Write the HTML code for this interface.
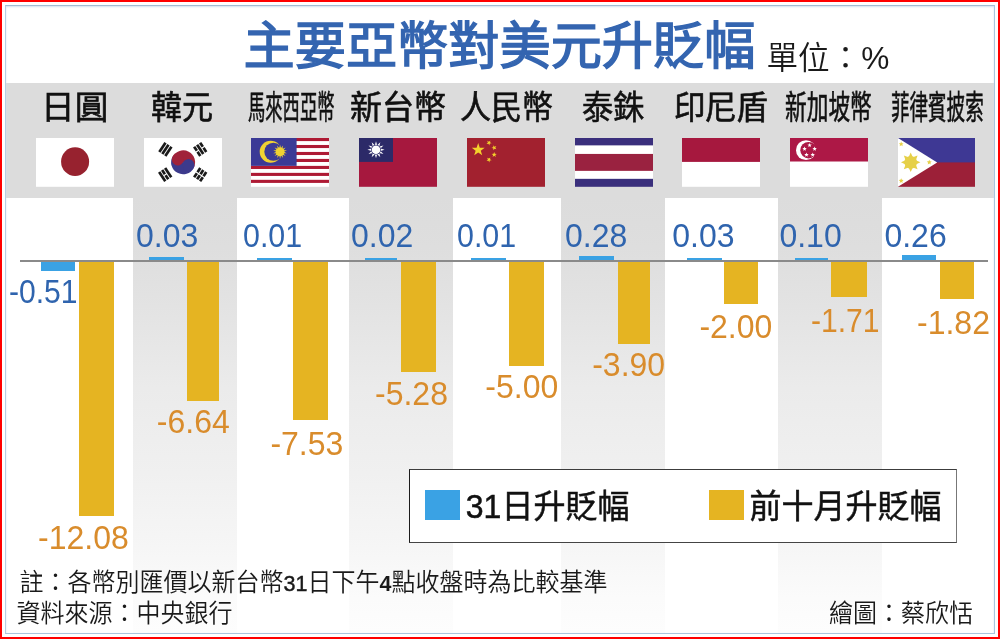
<!DOCTYPE html>
<html lang="zh-Hant">
<head>
<meta charset="utf-8">
<title>主要亞幣對美元升貶幅</title>
<style>
html,body{margin:0;padding:0;}
body{width:1000px;height:639px;position:relative;overflow:hidden;background:#fff;
  font-family:"Liberation Sans","Noto Sans CJK TC","Noto Sans CJK JP",sans-serif;color:#111;}
.abs{position:absolute;}
#red{position:absolute;left:0;top:0;width:1000px;height:639px;box-sizing:border-box;
  border-style:solid;border-color:#f00;border-width:2px 2px 2.5px 2px;z-index:50;pointer-events:none;}
#frame{position:absolute;left:5px;top:5px;width:990px;height:629px;box-sizing:border-box;
  border:1px solid #a9c4dd;border-left-color:#b7cde2;border-top-color:#a2bbd3;z-index:49;pointer-events:none;box-shadow:inset 0 1px 2px 0 #d3e1ee;}
#band{position:absolute;left:6px;top:83px;width:988px;height:116px;background:#dcdcdc;}
.col{position:absolute;top:198px;height:435px;}
.col.w{background:#fff;}
.col.g{background:linear-gradient(to bottom,#dcdcdc 0px,#dedede 50px,#e4e4e4 120px,#ebebeb 190px,#f0f0f0 275px,#f6f6f6 350px,#fbfbfb 400px,#fdfdfd 435px);}
#title{position:absolute;left:243.5px;top:10px;font-size:51.2px;line-height:74px;font-weight:400;-webkit-text-stroke:1.5px #3465b0;color:#3465b0;white-space:nowrap;letter-spacing:0px;}
#unit{position:absolute;left:766.5px;top:36.3px;font-size:31.6px;line-height:44px;font-weight:350;color:#1a1a1a;white-space:nowrap;}
.hd{position:absolute;top:86px;height:44px;line-height:44px;font-size:31px;font-weight:400;-webkit-text-stroke:0.6px #111;color:#111;white-space:nowrap;transform-origin:0 50%;}
.flag{position:absolute;top:137.8px;width:78px;height:48.8px;}
.flag svg{display:block;width:100%;height:100%;}
#axis{position:absolute;left:19.8px;top:259.7px;width:968.7px;height:2.5px;background:#8a8a8a;}
.gb{position:absolute;top:262px;background:#e5b422;}
.bb{position:absolute;background:#3aa2e4;}
.num{position:absolute;font-size:32px;line-height:36px;height:36px;white-space:nowrap;letter-spacing:0;transform:scaleY(1.06);transform-origin:0 50%;}
.num.b{color:#2f64ae;}
.num.o{color:#d98c2c;}
#legend{position:absolute;left:408.6px;top:469px;width:548.2px;height:73.6px;box-sizing:border-box;background:#fff;border:1.2px solid #1c1c1c;border-top:1.5px solid #3c3c3c;border-right:1px solid #777;border-bottom-color:#444;}
.lsq{position:absolute;top:490px;width:35px;height:30px;}
.ltx{position:absolute;top:484.8px;font-size:32px;line-height:44px;color:#111;white-space:nowrap;-webkit-text-stroke:0.5px #111;transform:scaleY(1.04);transform-origin:0 50%;}
.note{position:absolute;font-size:24px;line-height:30px;color:#1a1a1a;white-space:nowrap;font-weight:350;transform:scaleY(1.06);transform-origin:0 50%;}
.dg{font-size:21.5px;font-weight:400;-webkit-text-stroke:0.45px #1a1a1a;letter-spacing:0;}
.dg.k{font-weight:700;-webkit-text-stroke:0;letter-spacing:0;}
</style>
</head>
<body>
<div id="band"></div>
<div class="col w" style="left:6px;width:127px"></div>
<div class="col g" style="left:133px;width:103.5px"></div>
<div class="col w" style="left:236.5px;width:112.5px"></div>
<div class="col g" style="left:349px;width:103.8px"></div>
<div class="col w" style="left:452.8px;width:108.2px"></div>
<div class="col g" style="left:561px;width:103.8px"></div>
<div class="col w" style="left:664.8px;width:113.1px"></div>
<div class="col g" style="left:777.9px;width:103.9px"></div>
<div class="col w" style="left:881.8px;width:112.2px"></div>

<div id="title">主要亞幣對美元升貶幅</div>
<div id="unit">單位：%</div>

<div class="hd" style="left:40.7px;transform:scale(1.087,1.05)">日圓</div>
<div class="hd" style="left:151.4px;transform:scale(1.002,1.05)">韓元</div>
<div class="hd" style="left:247.8px;transform:scale(0.558,1.05)">馬來西亞幣</div>
<div class="hd" style="left:349.5px;transform:scale(1.033,1.05)">新台幣</div>
<div class="hd" style="left:459.5px;transform:scale(1.002,1.05)">人民幣</div>
<div class="hd" style="left:581.7px;transform:scale(1.005,1.05)">泰銖</div>
<div class="hd" style="left:674.0px;transform:scale(1.009,1.05)">印尼盾</div>
<div class="hd" style="left:785.0px;transform:scale(0.7,1.05)">新加坡幣</div>
<div class="hd" style="left:891.0px;transform:scale(0.598,1.05)">菲律賓披索</div>

<!-- FLAGS -->
<div class="flag" id="f1" style="left:36px"><svg viewBox="0 0 78 49" preserveAspectRatio="none"><rect width="78" height="49" fill="#fff"/><ellipse cx="39.1" cy="23.8" rx="14" ry="14.4" fill="#97222f"/></svg></div>
<div class="flag" id="f2" style="left:144px"><svg viewBox="0 0 78 49" preserveAspectRatio="none"><rect width="78" height="49" fill="#fff"/><g transform="rotate(28 39.1 24.4)"><path d="M27.1,24.4 A12,12 0 0 1 51.1,24.4 Z" fill="#a0223a"/><path d="M27.1,24.4 A12,12 0 0 0 51.1,24.4 Z" fill="#3c3a8c"/><circle cx="33.1" cy="24.4" r="6.0" fill="#a0223a"/><circle cx="45.1" cy="24.4" r="6.0" fill="#3c3a8c"/></g><g fill="#1a1a1a"><g transform="translate(21.4,11.4) rotate(-56)"><rect x="-5.5" y="-4.95" width="11" height="2.7"/><rect x="-5.5" y="-1.35" width="11" height="2.7"/><rect x="-5.5" y="2.25" width="11" height="2.7"/></g><g transform="translate(56.2,11.4) rotate(56)"><rect x="-5.5" y="-4.95" width="4.9" height="2.7"/><rect x="0.6" y="-4.95" width="4.9" height="2.7"/><rect x="-5.5" y="-1.35" width="11" height="2.7"/><rect x="-5.5" y="2.25" width="4.9" height="2.7"/><rect x="0.6" y="2.25" width="4.9" height="2.7"/></g><g transform="translate(21.2,36.8) rotate(56)"><rect x="-5.5" y="-4.95" width="11" height="2.7"/><rect x="-5.5" y="-1.35" width="4.9" height="2.7"/><rect x="0.6" y="-1.35" width="4.9" height="2.7"/><rect x="-5.5" y="2.25" width="11" height="2.7"/></g><g transform="translate(56.2,36.8) rotate(-56)"><rect x="-5.5" y="-4.95" width="4.9" height="2.7"/><rect x="0.6" y="-4.95" width="4.9" height="2.7"/><rect x="-5.5" y="-1.35" width="4.9" height="2.7"/><rect x="0.6" y="-1.35" width="4.9" height="2.7"/><rect x="-5.5" y="2.25" width="4.9" height="2.7"/><rect x="0.6" y="2.25" width="4.9" height="2.7"/></g></g></svg></div>
<div class="flag" id="f3" style="left:251px"><svg viewBox="0 0 78 49" preserveAspectRatio="none"><rect width="78" height="49" fill="#fff"/><rect x="0" y="0.00" width="78" height="3.10" fill="#ae1a34"/><rect x="0" y="7.00" width="78" height="3.10" fill="#ae1a34"/><rect x="0" y="14.00" width="78" height="3.10" fill="#ae1a34"/><rect x="0" y="21.00" width="78" height="3.10" fill="#ae1a34"/><rect x="0" y="28.00" width="78" height="3.10" fill="#ae1a34"/><rect x="0" y="35.00" width="78" height="3.10" fill="#ae1a34"/><rect x="0" y="42.00" width="78" height="3.10" fill="#ae1a34"/><rect x="0" y="0" width="45.6" height="28.00" fill="#3b3a96"/><circle cx="19.7" cy="13.8" r="11" fill="#f0d232"/><circle cx="22.4" cy="13.8" r="9.1" fill="#3b3a96"/><polygon points="29.10,6.80 29.90,10.29 32.14,7.49 31.34,10.99 34.57,9.44 32.34,12.24 35.92,12.24 32.70,13.80 35.92,15.36 32.34,15.36 34.57,18.16 31.34,16.61 32.14,20.11 29.90,17.31 29.10,20.80 28.30,17.31 26.06,20.11 26.86,16.61 23.63,18.16 25.86,15.36 22.28,15.36 25.50,13.80 22.28,12.24 25.86,12.24 23.63,9.44 26.86,10.99 26.06,7.49 28.30,10.29" fill="#f0d232"/><circle cx="29.1" cy="13.8" r="4.3" fill="#f0d232"/></svg></div>
<div class="flag" id="f4" style="left:359.4px"><svg viewBox="0 0 78 49" preserveAspectRatio="none"><rect width="78" height="49" fill="#a6183e"/><rect width="34" height="24" fill="#2c2a68"/><polygon points="17.00,3.20 18.19,7.36 21.30,4.35 20.25,8.55 24.45,7.50 21.44,10.61 25.60,11.80 21.44,12.99 24.45,16.10 20.25,15.05 21.30,19.25 18.19,16.24 17.00,20.40 15.81,16.24 12.70,19.25 13.75,15.05 9.55,16.10 12.56,12.99 8.40,11.80 12.56,10.61 9.55,7.50 13.75,8.55 12.70,4.35 15.81,7.36" fill="#fff"/><circle cx="17" cy="11.8" r="5" fill="#2c2a68"/><circle cx="17" cy="11.8" r="4.3" fill="#fff"/></svg></div>
<div class="flag" id="f5" style="left:467px"><svg viewBox="0 0 78 49" preserveAspectRatio="none"><rect width="78" height="49" fill="#a2212f"/><polygon points="11.20,5.10 12.79,9.72 17.67,9.80 13.77,12.73 15.20,17.40 11.20,14.60 7.20,17.40 8.63,12.73 4.73,9.80 9.61,9.72" fill="#f4d22c"/><polygon points="23.35,2.46 23.00,4.35 24.64,5.36 22.74,5.62 22.28,7.49 21.45,5.75 19.53,5.90 20.92,4.57 20.19,2.79 21.89,3.71" fill="#f4d22c"/><polygon points="26.28,7.26 27.50,8.74 29.33,8.14 28.30,9.76 29.44,11.31 27.58,10.83 26.46,12.40 26.33,10.48 24.50,9.89 26.29,9.18" fill="#f4d22c"/><polygon points="27.20,14.10 27.85,15.91 29.77,15.97 28.25,17.14 28.79,18.98 27.20,17.90 25.61,18.98 26.15,17.14 24.63,15.97 26.55,15.91" fill="#f4d22c"/><polygon points="23.35,19.46 23.00,21.35 24.64,22.36 22.74,22.62 22.28,24.49 21.45,22.75 19.53,22.90 20.92,21.57 20.19,19.79 21.89,20.71" fill="#f4d22c"/></svg></div>
<div class="flag" id="f6" style="left:574.6px"><svg viewBox="0 0 78 49" preserveAspectRatio="none"><rect width="78" height="49" fill="#3a2f7c"/><rect y="7.4" width="78" height="33.6" fill="#fff"/><rect y="16" width="78" height="17" fill="#9a2240"/></svg></div>
<div class="flag" id="f7" style="left:682px"><svg viewBox="0 0 78 49" preserveAspectRatio="none"><rect width="78" height="49" fill="#fff"/><rect width="78" height="24" fill="#a6183e"/></svg></div>
<div class="flag" id="f8" style="left:790px"><svg viewBox="0 0 78 49" preserveAspectRatio="none"><rect width="78" height="49" fill="#fff"/><rect width="78" height="23.6" fill="#ad1846"/><circle cx="16" cy="12.2" r="10" fill="#fff"/><circle cx="18.6" cy="12.2" r="8.3" fill="#ad1846"/><polygon points="19.60,5.00 20.19,6.49 21.79,6.59 20.55,7.61 20.95,9.16 19.60,8.30 18.25,9.16 18.65,7.61 17.41,6.59 19.01,6.49" fill="#fff"/><polygon points="24.64,8.66 25.23,10.15 26.83,10.25 25.59,11.27 25.99,12.82 24.64,11.96 23.29,12.82 23.69,11.27 22.45,10.25 24.05,10.15" fill="#fff"/><polygon points="22.72,14.59 23.30,16.08 24.90,16.18 23.67,17.20 24.07,18.75 22.72,17.89 21.36,18.75 21.76,17.20 20.53,16.18 22.13,16.08" fill="#fff"/><polygon points="16.48,14.59 17.07,16.08 18.67,16.18 17.44,17.20 17.84,18.75 16.48,17.89 15.13,18.75 15.53,17.20 14.30,16.18 15.90,16.08" fill="#fff"/><polygon points="14.56,8.66 15.15,10.15 16.75,10.25 15.51,11.27 15.91,12.82 14.56,11.96 13.21,12.82 13.61,11.27 12.37,10.25 13.97,10.15" fill="#fff"/></svg></div>
<div class="flag" id="f9" style="left:898px;width:77.4px"><svg viewBox="0 0 78 49" preserveAspectRatio="none"><rect width="78" height="49" fill="#9c2038"/><rect width="78" height="24.5" fill="#3e3894"/><polygon points="0,0 39.5,24.5 0,49" fill="#fff"/><polygon points="12.80,14.60 14.94,19.23 19.73,17.47 17.97,22.26 22.60,24.40 17.97,26.54 19.73,31.33 14.94,29.57 12.80,34.20 10.66,29.57 5.87,31.33 7.63,26.54 3.00,24.40 7.63,22.26 5.87,17.47 10.66,19.23" fill="#e6d048"/><circle cx="12.8" cy="24.4" r="6.3" fill="#e6d048"/><polygon points="3.20,3.60 3.91,5.23 5.67,5.40 4.34,6.57 4.73,8.30 3.20,7.40 1.67,8.30 2.06,6.57 0.73,5.40 2.49,5.23" fill="#e6d048"/><polygon points="3.20,40.40 3.91,42.03 5.67,42.20 4.34,43.37 4.73,45.10 3.20,44.20 1.67,45.10 2.06,43.37 0.73,42.20 2.49,42.03" fill="#e6d048"/><polygon points="31.50,21.80 32.21,23.43 33.97,23.60 32.64,24.77 33.03,26.50 31.50,25.60 29.97,26.50 30.36,24.77 29.03,23.60 30.79,23.43" fill="#e6d048"/></svg></div>

<!-- BARS -->
<div class="gb" style="left:79.1px;width:34.9px;height:253.5px"></div>
<div class="gb" style="left:187.4px;width:31.8px;height:139.0px"></div>
<div class="gb" style="left:293.0px;width:34.8px;height:158.2px"></div>
<div class="gb" style="left:401.0px;width:34.8px;height:110.0px"></div>
<div class="gb" style="left:509.0px;width:35.0px;height:103.7px"></div>
<div class="gb" style="left:618.0px;width:31.8px;height:81.5px"></div>
<div class="gb" style="left:724.0px;width:34.0px;height:41.5px"></div>
<div class="gb" style="left:831.2px;width:35.8px;height:35.2px"></div>
<div class="gb" style="left:939.8px;width:34.4px;height:36.8px"></div>
<div class="bb" style="left:41.0px;width:34.2px;top:262.0px;height:8.5px"></div>
<div class="bb" style="left:149.0px;width:35.0px;top:257.2px;height:2.8px"></div>
<div class="bb" style="left:257.2px;width:35.2px;top:257.5px;height:2.5px"></div>
<div class="bb" style="left:365.4px;width:31.9px;top:257.5px;height:2.5px"></div>
<div class="bb" style="left:470.6px;width:35.2px;top:257.9px;height:2.1px"></div>
<div class="bb" style="left:579.3px;width:34.3px;top:255.5px;height:4.5px"></div>
<div class="bb" style="left:687.2px;width:34.9px;top:257.6px;height:2.4px"></div>
<div class="bb" style="left:795.4px;width:32.4px;top:257.6px;height:2.4px"></div>
<div class="bb" style="left:901.7px;width:34.0px;top:255.0px;height:5.0px"></div>
<div id="axis"></div>

<!-- NUMBERS -->
<div class="num b" style="left:8.8px;top:272.5px;transform:scale(0.94,1.06)">-0.51</div>
<div class="num b" style="left:136.0px;top:217.2px">0.03</div>
<div class="num b" style="left:243.4px;top:217.2px;transform:scale(0.95,1.06)">0.01</div>
<div class="num b" style="left:351.0px;top:217.2px">0.02</div>
<div class="num b" style="left:456.5px;top:217.2px;transform:scale(0.95,1.06)">0.01</div>
<div class="num b" style="left:565.0px;top:217.2px">0.28</div>
<div class="num b" style="left:672.3px;top:217.2px">0.03</div>
<div class="num b" style="left:779.4px;top:217.2px">0.10</div>
<div class="num b" style="left:884.4px;top:217.2px">0.26</div>
<div class="num o" style="left:38.1px;top:518.6px">-12.08</div>
<div class="num o" style="left:156.8px;top:402.8px">-6.64</div>
<div class="num o" style="left:270.4px;top:424.8px">-7.53</div>
<div class="num o" style="left:375.0px;top:374.6px">-5.28</div>
<div class="num o" style="left:485.3px;top:367.8px">-5.00</div>
<div class="num o" style="left:592.2px;top:346.4px">-3.90</div>
<div class="num o" style="left:699.4px;top:308.2px">-2.00</div>
<div class="num o" style="left:810.5px;top:302.2px;transform:scale(0.94,1.06)">-1.71</div>
<div class="num o" style="left:917.0px;top:304.2px">-1.82</div>

<!-- LEGEND -->
<div id="legend"></div>
<div class="lsq" style="left:425.3px;background:#3aa2e4"></div>
<div class="ltx" style="left:465.8px">31日升貶幅</div>
<div class="lsq" style="left:709.4px;background:#e5b422"></div>
<div class="ltx" style="left:749.5px">前十月升貶幅</div>

<!-- NOTES -->
<div class="note" style="left:19.5px;top:567.6px">註：各幣別匯價以新台幣<span class="dg">31</span>日下午<span class="dg k">4</span>點收盤時為比較基準</div>
<div class="note" style="left:16.5px;top:598.8px">資料來源：中央銀行</div>
<div class="note" style="left:829px;top:598.8px">繪圖：蔡欣恬</div>

<div id="frame"></div>
<div id="red"></div>
</body>
</html>
